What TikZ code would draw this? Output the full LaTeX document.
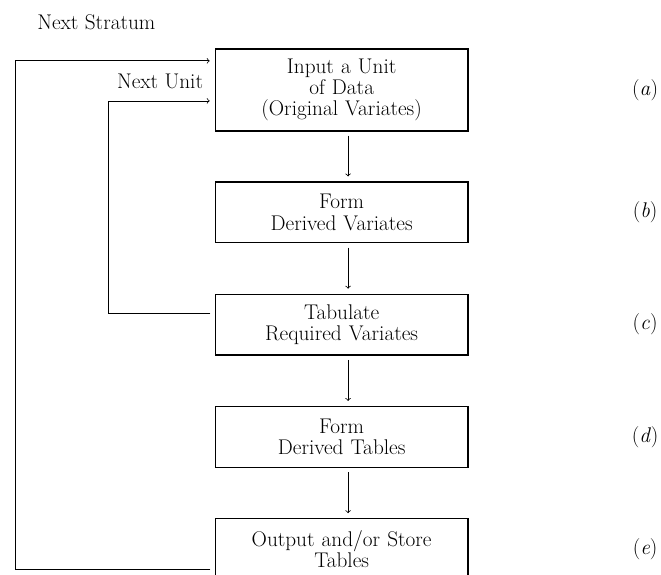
\documentclass[tikz,border=0pt]{standalone}
\usetikzlibrary{positioning}

\begin{document}
\begin{tikzpicture}[
	node distance=29.7mm,
	font=\fontsize{16}{16}\selectfont,
	stage/.style={
		rectangle,
		draw,
		line width=0.9pt,
		text width=66.9mm,
		inner xsep=0pt,
		align=center,
		minimum height=16.1mm
	},
	note/.style={
		inner sep=0pt
	},
	flow/.style={
		->,
		line width=0.6pt,
		shorten <=1.1mm,
		shorten >=1.3mm
	}
	]
	
	\useasboundingbox (-90.4mm,23.8mm) rectangle (84.5mm,-128.1mm);

	\node [stage, minimum height=21.7mm] (Input) {Input a Unit\\ of Data\\ (Original Variates)};
	\node [stage, below of=Input, node distance=32.4mm] (Variates) {Form\\ Derived Variates};
	\node [stage, below of=Variates] (Tabulate) {Tabulate\\ Required Variates};
	\node [stage, below of=Tabulate] (Tables) {Form\\ Derived Tables};
	\node [stage, below of=Tables] (Output) {Output and/or Store\\ Tables};
	
	\node [right of=Input, node distance=80.3mm] (TagA) {(\textit{a})};
	\node [right of=Variates, node distance=80.3mm] (TagB) {(\textit{b})};
	\node [right of=Tabulate, node distance=80.3mm] (TagC) {(\textit{c})};
	\node [right of=Tables, node distance=80.3mm] (TagD) {(\textit{d})};
	\node [right of=Output, node distance=80.3mm] (TagE) {(\textit{e})};
	
	\node [note, anchor=base west] (Stratum) at (-80.6mm,15.9mm) {Next Stratum};
	\node [note, anchor=base east] (Unit) at (-36.6mm,0.5mm) {Next Unit};
	
	\foreach \from/\to in {Input/Variates, Variates/Tabulate, Tabulate/Tables, Tables/Output}
		\draw [flow] ([xshift=1.7mm]\from.south) -- ([xshift=1.7mm]\to.north);
	
	% loops back to the input box
	\coordinate (StratumCorner) at (-86.4mm,-40mm);
	\coordinate (UnitCorner) at (-61.8mm,-40mm);
	\draw [flow] ([yshift=-5.4mm]Output.west) -| (StratumCorner) |- ([yshift=7.7mm]Input.west);
	\draw [flow] ([yshift=2.9mm]Tabulate.west) -| (UnitCorner) |- ([yshift=-2.9mm]Input.west);
	
\end{tikzpicture}
\end{document}
